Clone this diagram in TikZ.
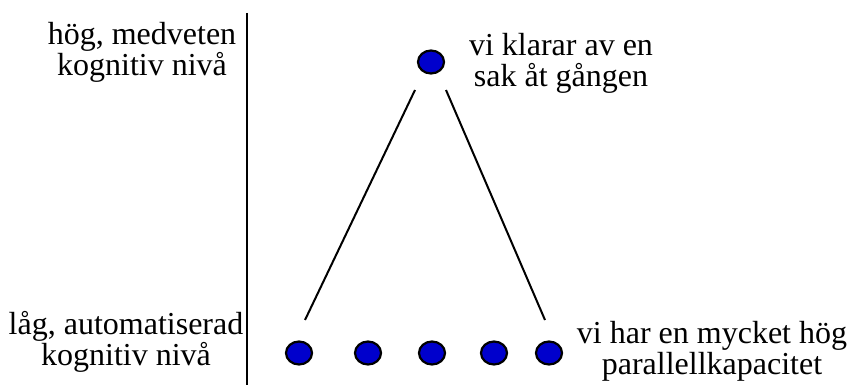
\documentclass[tikz,border=0pt]{standalone}
\usepackage{fontspec}
\setmainfont{Liberation Serif}
\usetikzlibrary{positioning,shapes.geometric}

\tikzset{
  dot/.style={ellipse,draw=black,line width=2.2pt,fill={rgb,255:red,0;green,0;blue,204},
    minimum width=26pt,minimum height=23pt,inner sep=0pt},
  lbl/.style={font=\fontsize{32}{31}\selectfont,inner sep=0pt,align=center}
}

\begin{document}
\begin{tikzpicture}[x=1pt,y=-1pt]
    \useasboundingbox (0,0) rectangle (852,385);
    % levels
    \node[dot] (top) at (431,62) {};
    \node[dot] (b1) at (299,353) {};
    \node[dot] (b2) at (368,353) {};
    \node[dot] (b3) at (432,353) {};
    \node[dot] (b4) at (494,353) {};
    \node[dot] (b5) at (549,353) {};

    \coordinate (axtop) at (247,13);
    \coordinate (axbot) at (247,385);
    \draw[line width=2pt] (axtop) -- (axbot);

    \coordinate (l1) at (415,90);
    \coordinate (l2) at (305,320);
    \coordinate (r1) at (446,90);
    \coordinate (r2) at (545,320);
    \draw[line width=2pt] (l1) -- (l2);
    \draw[line width=2pt] (r1) -- (r2);

    % texts
    \node[lbl] (hi) at (142,52) {hög, medveten\\kognitiv nivå};
    \node[lbl] (lo) at (126,342) {låg, automatiserad\\kognitiv nivå};
    \node[lbl] (one) at (561,63) {vi klarar av en\\sak åt gången};
    \node[lbl] (par) at (712,351) {vi har en mycket hög\\parallellkapacitet};
\end{tikzpicture}
\end{document}
